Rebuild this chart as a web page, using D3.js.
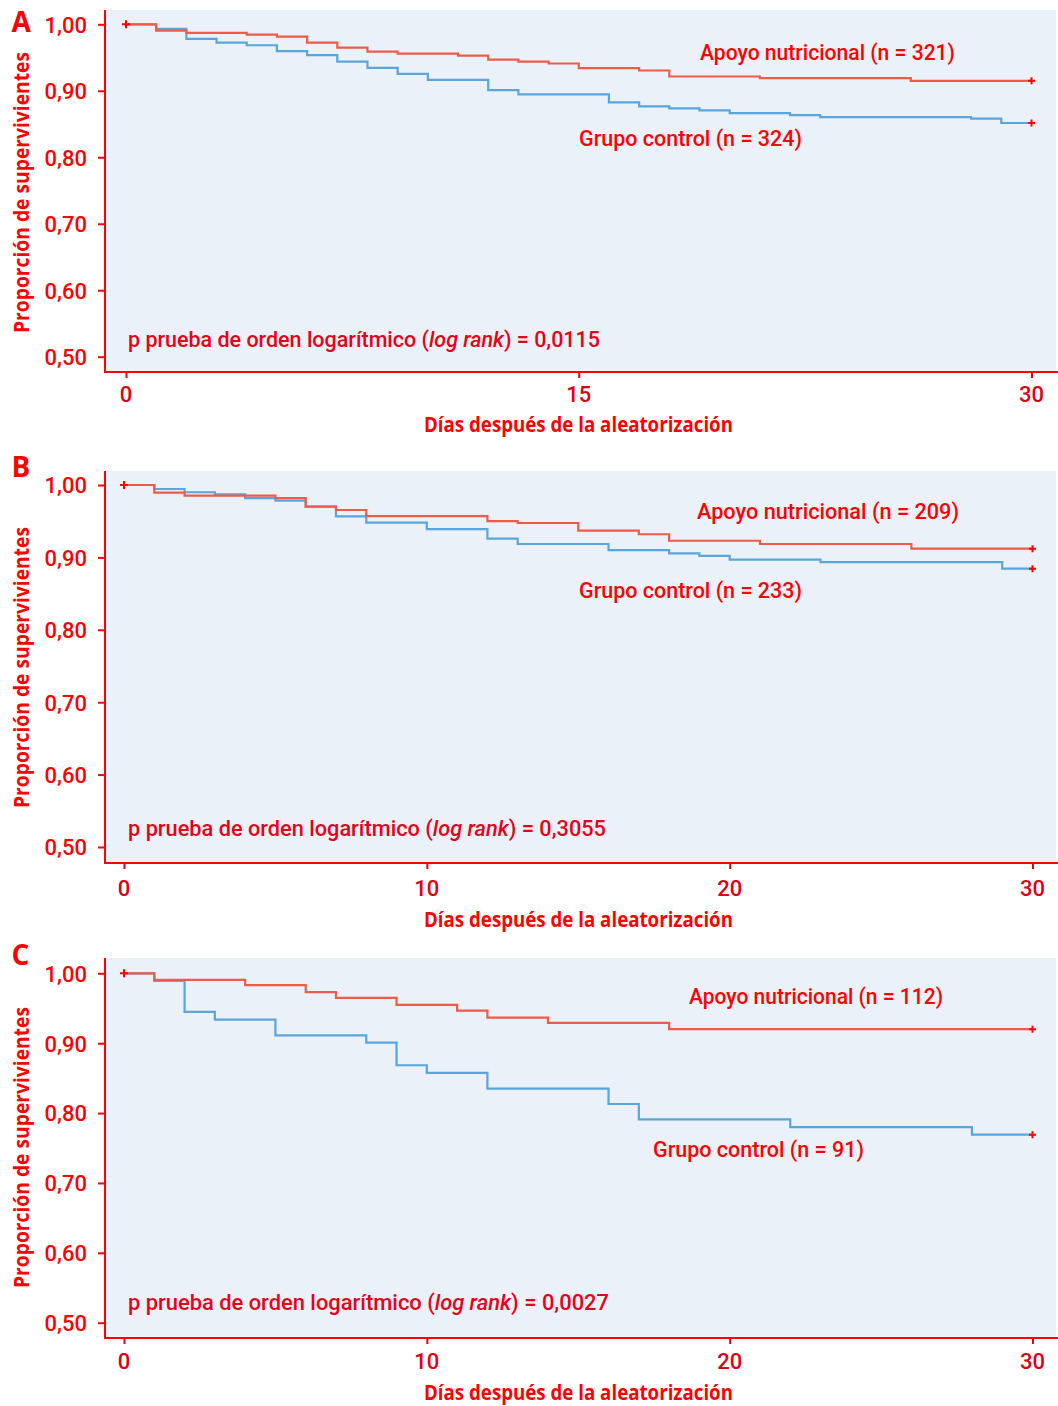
<!DOCTYPE html>
<html lang="es">
<head>
<meta charset="utf-8">
<script src="https://cdn.jsdelivr.net/npm/d3@7/dist/d3.min.js"></script>
<style>
  html, body { margin: 0; padding: 0; background: #ffffff; }
  svg { display: block; }
  text { font-family: Roboto, "Open Sans", sans-serif; font-weight: 500; }
  text.bold { font-family: "Open Sans", "Noto Sans", sans-serif; font-weight: 700; }
</style>
</head>
<body>
<svg id="chart" width="1058" height="1406"></svg>
<script>
// ---- data ----------------------------------------------------------------
const panelLetters = ["A", "B", "C"];
const yTickValues = [0.5, 0.6, 0.7, 0.8, 0.9, 1.0];
const xTicksA = [0, 15, 30];
const xTicksBC = [0, 10, 20, 30];

const supportNames = ["Apoyo nutricional (n = 321)", "Apoyo nutricional (n = 209)", "Apoyo nutricional (n = 112)"];
const controlNames = ["Grupo control (n = 324)", "Grupo control (n = 233)", "Grupo control (n = 91)"];
const pValues = ["0,0115", "0,3055", "0,0027"];

// Kaplan-Meier steps: day of each step and survival after it
const aSupportDays = [0, 1, 2, 4, 5, 6, 7, 8, 9, 11, 12, 13, 14, 15, 17, 18, 21, 26, 30];
const aSupportSurv = [1, 0.9905, 0.987, 0.9845, 0.9815, 0.9725, 0.965, 0.959, 0.956, 0.953, 0.947, 0.944, 0.941, 0.934, 0.9305, 0.9215, 0.919, 0.915, 0.915];
const aControlDays = [0, 1, 2, 3, 4, 5, 6, 7, 8, 9, 10, 12, 13, 16, 17, 18, 19, 20, 22, 23, 28, 29, 30];
const aControlSurv = [1, 0.993, 0.978, 0.9725, 0.9685, 0.9595, 0.9535, 0.944, 0.9345, 0.9255, 0.9165, 0.901, 0.8945, 0.8825, 0.8765, 0.8735, 0.8705, 0.8665, 0.8635, 0.8605, 0.858, 0.8515, 0.8515];

const bSupportDays = [0, 1, 2, 5, 6, 7, 8, 12, 13, 15, 17, 18, 21, 26, 30];
const bSupportSurv = [1, 0.9894, 0.9853, 0.982, 0.970, 0.9655, 0.957, 0.950, 0.9475, 0.937, 0.932, 0.923, 0.9185, 0.912, 0.912];
const bControlDays = [0, 1, 2, 3, 4, 5, 6, 7, 8, 10, 12, 13, 16, 18, 19, 20, 23, 29, 30];
const bControlSurv = [1, 0.9945, 0.990, 0.987, 0.982, 0.9784, 0.970, 0.9567, 0.948, 0.939, 0.926, 0.9185, 0.910, 0.9056, 0.902, 0.897, 0.8935, 0.8844, 0.8844];

const cSupportDays = [0, 1, 4, 6, 7, 9, 11, 12, 14, 18, 30];
const cSupportSurv = [1, 0.9905, 0.983, 0.973, 0.9647, 0.9547, 0.9466, 0.9366, 0.929, 0.920, 0.920];
const cControlDays = [0, 1, 2, 3, 5, 8, 9, 10, 12, 16, 17, 22, 28, 30];
const cControlSurv = [1, 0.989, 0.9447, 0.9337, 0.9113, 0.9008, 0.8684, 0.8574, 0.835, 0.813, 0.791, 0.780, 0.769, 0.769];

// ---- layout --------------------------------------------------------------
const RED = "#ff0000";
const TICK_RED = "#dc0014";
const LINE_RED = "#f05a47";
const LINE_BLUE = "#5aa5dc";
const BG = "#eaf1f9";
const plotLeft = 105, plotRight = 1056;

const panels = [
  { letter: panelLetters[0], xTicks: xTicksA, top: 10, bottom: 372, yOne: 24.3, yHalf: 356.7, xZero: 126, xEnd: 1031.5,
    support: [aSupportDays, aSupportSurv], control: [aControlDays, aControlSurv],
    supportLabel: { x: 700, y: 60, w: 255 }, controlLabel: { x: 579, y: 146, w: 223 },
    pY: 347, pW: 472, tickLabelY: 402, titleY: 432, letterY: 32, yTitleMid: 192.5 },
  { letter: panelLetters[1], xTicks: xTicksBC, top: 471, bottom: 863, yOne: 485, yHalf: 847, xZero: 124, xEnd: 1032.5,
    support: [bSupportDays, bSupportSurv], control: [bControlDays, bControlSurv],
    supportLabel: { x: 697, y: 519, w: 262 }, controlLabel: { x: 579, y: 598, w: 223 },
    pY: 836, pW: 478, tickLabelY: 896, titleY: 927, letterY: 477, yTitleMid: 667.5 },
  { letter: panelLetters[2], xTicks: xTicksBC, top: 958, bottom: 1338, yOne: 973.3, yHalf: 1322.7, xZero: 124, xEnd: 1032.5,
    support: [cSupportDays, cSupportSurv], control: [cControlDays, cControlSurv],
    supportLabel: { x: 689, y: 1004, w: 254 }, controlLabel: { x: 653, y: 1157, w: 211 },
    pY: 1310, pW: 481, tickLabelY: 1369, titleY: 1400, letterY: 965, yTitleMid: 1147.5 }
];

const svg = d3.select("#chart");
svg.append("rect").attr("width", 1058).attr("height", 1406).attr("fill", "#ffffff");

const fmt = d => d3.format(".2f")(d).replace(".", ",");

panels.forEach((p, i) => {
  const x = d3.scaleLinear().domain([0, 30]).range([p.xZero, p.xEnd]);
  const y = d3.scaleLinear().domain([0.5, 1.0]).range([p.yHalf, p.yOne]);
  const g = svg.append("g");

  // plotting area
  g.append("rect")
    .attr("x", plotLeft).attr("y", p.top)
    .attr("width", plotRight - plotLeft).attr("height", p.bottom - p.top)
    .attr("fill", BG);

  // y axis
  const yAxis = g.append("g")
    .attr("transform", `translate(${plotLeft},0)`)
    .call(d3.axisLeft(y).tickValues(yTickValues).tickFormat(fmt).tickSize(7).tickPadding(11).tickSizeOuter(0));
  yAxis.select(".domain").remove();
  yAxis.selectAll(".tick line").attr("stroke", RED).attr("stroke-width", 2);
  yAxis.selectAll(".tick text")
    .attr("fill", RED).attr("font-size", 22).attr("font-family", "Roboto, sans-serif").attr("font-weight", 500)
    .attr("dy", "0.36em");
  g.append("line")
    .attr("x1", plotLeft).attr("x2", plotLeft)
    .attr("y1", p.top).attr("y2", p.bottom + 1)
    .attr("stroke", RED).attr("stroke-width", 2);

  // x axis
  const xAxis = g.append("g")
    .attr("transform", `translate(0,${p.bottom})`)
    .call(d3.axisBottom(x).tickValues(p.xTicks).tickFormat(d3.format("d")).tickSize(6).tickSizeOuter(0));
  xAxis.select(".domain").remove();
  xAxis.selectAll(".tick line").attr("stroke", TICK_RED).attr("stroke-width", 2);
  xAxis.selectAll(".tick text").remove();
  g.append("line")
    .attr("x1", plotLeft - 1).attr("x2", plotRight + 2)
    .attr("y1", p.bottom).attr("y2", p.bottom)
    .attr("stroke", RED).attr("stroke-width", 2);
  g.selectAll(".xlab").data(p.xTicks).join("text")
    .attr("x", d => x(d)).attr("y", p.tickLabelY)
    .attr("text-anchor", "middle")
    .attr("fill", TICK_RED).attr("font-size", 22)
    .text(d => d);

  // axis titles
  g.append("text").attr("class", "bold")
    .attr("x", 578.5).attr("y", p.titleY)
    .attr("text-anchor", "middle")
    .attr("fill", RED).attr("font-size", 21)
    .attr("textLength", 309).attr("lengthAdjust", "spacingAndGlyphs")
    .text("Días después de la aleatorización");
  g.append("text").attr("class", "bold")
    .attr("transform", `translate(29,${p.yTitleMid}) rotate(-90)`)
    .attr("text-anchor", "middle")
    .attr("fill", RED).attr("font-size", 21)
    .attr("textLength", 281).attr("lengthAdjust", "spacingAndGlyphs")
    .text("Proporción de supervivientes");

  // panel letter
  g.append("text").attr("class", "bold")
    .attr("x", 11.5).attr("y", p.letterY)
    .attr("fill", RED).attr("font-size", 28)
    .text(p.letter);

  // survival curves
  const line = d3.line()
    .x(d => x(d[0])).y(d => y(d[1]))
    .curve(d3.curveStepAfter);
  const series = [
    { days: p.control[0], surv: p.control[1], color: LINE_BLUE },
    { days: p.support[0], surv: p.support[1], color: LINE_RED }
  ];
  series.forEach(s => {
    const pts = s.days.map((d, k) => [d, s.surv[k]]);
    g.append("path")
      .attr("d", line(pts))
      .attr("fill", "none")
      .attr("stroke", s.color)
      .attr("stroke-width", 2.2);
  });

  // censoring marks: common start and the end of each curve
  const marks = [[0, 1],
    [30, p.support[1][p.support[1].length - 1]],
    [30, p.control[1][p.control[1].length - 1]]];
  marks.forEach(([d, v], k) => {
    const cx = x(d), cy = y(v), r = k === 0 ? 4 : 3.5;
    g.append("path")
      .attr("d", `M${cx - r},${cy}H${cx + r}M${cx},${cy - r}V${cy + r}`)
      .attr("stroke", RED).attr("stroke-width", 2).attr("fill", "none");
  });

  // curve labels
  [[supportNames[i], p.supportLabel], [controlNames[i], p.controlLabel]].forEach(([t, l]) => {
    g.append("text")
      .attr("x", l.x).attr("y", l.y)
      .attr("fill", RED).attr("font-size", 22)
      .attr("textLength", l.w).attr("lengthAdjust", "spacingAndGlyphs")
      .text(t);
  });

  // log-rank p value
  const pt = g.append("text")
    .attr("x", 128).attr("y", p.pY)
    .attr("fill", "#e6001a").attr("font-size", 22)
    .attr("textLength", p.pW).attr("lengthAdjust", "spacingAndGlyphs");
  pt.append("tspan").text("p prueba de orden logarítmico (");
  pt.append("tspan").attr("font-style", "italic").text("log rank");
  pt.append("tspan").text(") = " + pValues[i]);
});
</script>
</body>
</html>
